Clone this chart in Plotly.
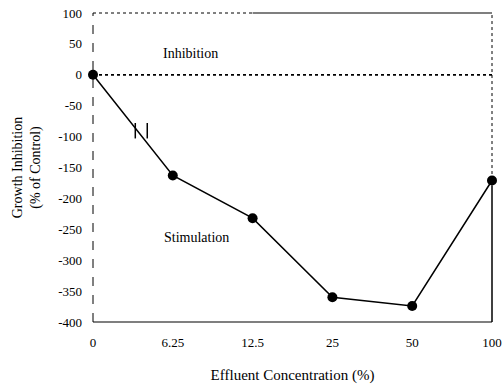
import plotly.graph_objects as go

concentrations = ["0", "6.25", "12.5", "25", "50", "100"]
inhibition = [0, -163, -232, -360, -374, -171]
y_ticks = [100, 50, 0, -50, -100, -150, -200, -250, -300, -350, -400]
y_tick_text = ["100", "50", "0", "-50", "-100", "-150", "-200", "-250", "-300", "-350", "-400"]

FONT = "Liberation Serif"

fig = go.Figure()
fig.add_trace(go.Scatter(
    x=list(range(len(concentrations))), y=inhibition,
    mode="lines+markers",
    line=dict(color="black", width=1.5),
    marker=dict(color="black", size=10),
    cliponaxis=False, showlegend=False,
))

shapes = [
    # frame (paper-referenced so it is not clipped at the plot edge)
    dict(type="line", xref="paper", yref="paper", x0=0, x1=0, y0=0, y1=1,
         line=dict(color="black", width=1, dash="dash")),
    dict(type="line", xref="paper", yref="paper", x0=0, x1=1, y0=0, y1=0,
         line=dict(color="black", width=1.2)),
    dict(type="line", xref="paper", yref="paper", x0=0, x1=0.4, y0=1, y1=1,
         line=dict(color="black", width=1, dash="dot")),
    dict(type="line", xref="paper", yref="paper", x0=0.4, x1=1, y0=1, y1=1,
         line=dict(color="black", width=1.2)),
    dict(type="line", xref="paper", yref="paper", x0=1, x1=1, y0=0.44, y1=1,
         line=dict(color="black", width=1, dash="dot")),
    dict(type="line", xref="paper", yref="paper", x0=1, x1=1, y0=0, y1=0.44,
         line=dict(color="black", width=1.5)),
    # zero reference line
    dict(type="line", xref="x", yref="y", x0=0, x1=5, y0=0, y1=0,
         line=dict(color="black", width=1.8, dash="dot")),
    # small break marks on the first segment
    dict(type="line", xref="x", yref="y", x0=0.53, x1=0.53, y0=-78, y1=-103,
         line=dict(color="black", width=1.5)),
    dict(type="line", xref="x", yref="y", x0=0.68, x1=0.68, y0=-78, y1=-103,
         line=dict(color="black", width=1.5)),
]

annotations = [
    dict(x=1.22, y=35, xref="x", yref="y", text="Inhibition", showarrow=False,
         font=dict(family=FONT, size=14, color="black")),
    dict(x=1.30, y=-263, xref="x", yref="y", text="Stimulation", showarrow=False,
         font=dict(family=FONT, size=14, color="black")),
]

fig.update_layout(
    width=502, height=388,
    margin=dict(l=93, r=10, t=13, b=66),
    paper_bgcolor="white", plot_bgcolor="white",
    font=dict(family=FONT, size=13, color="black"),
    shapes=shapes, annotations=annotations,
    xaxis=dict(
        range=[0, 5], tickmode="array", automargin=False,
        tickvals=list(range(len(concentrations))), ticktext=concentrations,
        showgrid=False, zeroline=False, showline=False,
        ticks="", ticklabelstandoff=11, ticklabeloverflow="allow",
        tickfont=dict(family=FONT, size=13),
        title=dict(text="Effluent Concentration (%)", standoff=20,
                   font=dict(family=FONT, size=15)),
    ),
    yaxis=dict(
        range=[-400, 100], tickmode="array", automargin=False,
        tickvals=y_ticks, ticktext=y_tick_text,
        showgrid=False, zeroline=False, showline=False,
        ticks="", ticklabelstandoff=10, ticklabeloverflow="allow",
        tickfont=dict(family=FONT, size=13),
        title=dict(text="Growth Inhibition<br>(% of Control)", standoff=14,
                   font=dict(family=FONT, size=14)),
    ),
)

# Remove the default page margin so the figure fills the window exactly.
fig.write_html(
    "out.html",
    config={"displayModeBar": False},
    post_script="document.body.style.margin='0';document.body.style.overflow='hidden';",
)
